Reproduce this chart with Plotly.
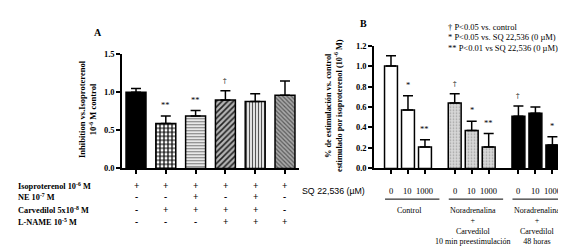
import plotly.graph_objects as go

# ---------------- Panel A data ----------------
a_cats = [0, 1, 2, 3, 4, 5]
a_vals = [1.00, 0.59, 0.69, 0.90, 0.88, 0.96]
a_err = [0.05, 0.10, 0.07, 0.12, 0.10, 0.19]
a_sig = ["", "**", "**", "\u2020", "", ""]
a_rows = ["Isoproterenol 10<sup>-6</sup> M", "NE 10<sup>-7</sup> M",
          "Carvedilol 5x10<sup>-8</sup> M", "L-NAME 10<sup>-5</sup> M"]
a_table = [["+", "+", "+", "+", "+", "+"],
           ["-", "-", "+", "-", "+", "-"],
           ["-", "+", "+", "+", "+", "-"],
           ["-", "-", "-", "+", "+", "+"]]
a_yticks = [0.0, 0.5, 1.0, 1.5]

# ---------------- Panel B data ----------------
b_pos = [0, 1, 2, 3.75, 4.75, 5.75, 7.5, 8.5, 9.5]
b_vals = [1.00, 0.57, 0.21, 0.64, 0.37, 0.21, 0.51, 0.54, 0.23]
b_err = [0.10, 0.14, 0.07, 0.09, 0.09, 0.13, 0.10, 0.06, 0.08]
b_sig = ["", "*", "**", "\u2020", "*", "**", "\u2020", "", "*"]
b_sq = ["0", "10", "1000"] * 3
b_groups = ["Control",
            "Noradrenalina<br>+<br>Carvedilol<br>10 min preestimulación",
            "Noradrenalina<br>+<br>Carvedilol<br>48 horas"]
b_group_start = [0, 3.75, 7.5]
b_yticks = [0.0, 0.2, 0.4, 0.6, 0.8, 1.0, 1.2]
b_legend = ["\u2020 P<0.05 vs. control",
            "* P<0.05 vs. SQ 22,536 (0 \u00b5M)",
            "** P<0.01 vs SQ 22,536 (0 \u00b5M)"]

SERIF = "Liberation Serif"
W, H = 566, 246

def px(xp):
    return xp / W

def py(yp):
    return 1 - yp / H

fig = go.Figure()

a_styles = [
    dict(color="black", pattern=dict(shape="")),
    dict(color="white", pattern=dict(shape="+", fgcolor="black", bgcolor="white",
                                     size=4, solidity=0.5, fillmode="replace")),
    dict(color="white", pattern=dict(shape="-", fgcolor="#7a7a7a", bgcolor="white",
                                     size=3, solidity=0.45, fillmode="replace")),
    dict(color="#aaaaaa", pattern=dict(shape="/", fgcolor="#222222", bgcolor="#b5b5b5",
                                       size=4, solidity=0.4, fillmode="replace")),
    dict(color="white", pattern=dict(shape="|", fgcolor="#555555", bgcolor="white",
                                     size=3, solidity=0.45, fillmode="replace")),
    dict(color="#9a9a9a", pattern=dict(shape="\\", fgcolor="#5a5a5a", bgcolor="#a8a8a8",
                                       size=3, solidity=0.4, fillmode="replace")),
]

for x, v, e, st in zip(a_cats, a_vals, a_err, a_styles):
    fig.add_trace(go.Bar(
        x=[x], y=[v], width=0.67, xaxis="x", yaxis="y",
        marker=dict(color=st["color"], line=dict(color="black", width=1.5),
                    pattern=st["pattern"]),
        error_y=dict(type="data", array=[e], arrayminus=[0], symmetric=False,
                     color="black", thickness=1.5, width=5),
        showlegend=False,
    ))

b_styles = [
    dict(color="white", pattern=dict(shape="")),
    dict(color="#d4d4d4", pattern=dict(shape=".", fgcolor="#a0a0a0", bgcolor="#d8d8d8",
                                       size=3, solidity=0.25, fillmode="replace")),
    dict(color="black", pattern=dict(shape="")),
]
for g in range(3):
    idx = slice(3 * g, 3 * g + 3)
    st = b_styles[g]
    fig.add_trace(go.Bar(
        x=b_pos[idx], y=b_vals[idx], width=0.76, xaxis="x2", yaxis="y2",
        marker=dict(color=st["color"], line=dict(color="black", width=1.5),
                    pattern=st["pattern"]),
        error_y=dict(type="data", array=b_err[idx], arrayminus=[0, 0, 0],
                     symmetric=False, color="black", thickness=1.5, width=5),
        showlegend=False,
    ))

ann = []

def sig_font(s):
    return dict(family="DejaVu Serif" if s == "\u2020" else SERIF,
                size=7 if s == "\u2020" else 8.5, color="black")

for x, v, e, s in zip(a_cats, a_vals, a_err, a_sig):
    if s:
        ann.append(dict(x=x, y=v + e, xref="x", yref="y", text=s, showarrow=False,
                        yanchor="bottom", yshift=4, font=sig_font(s)))
for x, v, e, s in zip(b_pos, b_vals, b_err, b_sig):
    if s:
        ann.append(dict(x=x, y=v + e, xref="x2", yref="y2", text=s, showarrow=False,
                        yanchor="bottom", yshift=4, font=sig_font(s)))

ann.append(dict(x=px(90), y=py(20), xref="paper", yref="paper", text="<b>A</b>",
                showarrow=False, xanchor="center", yanchor="middle",
                font=dict(family=SERIF, size=10, color="black")))
ann.append(dict(x=px(355), y=py(11), xref="paper", yref="paper", text="<b>B</b>",
                showarrow=False, xanchor="center", yanchor="middle",
                font=dict(family=SERIF, size=10, color="black")))

ann.append(dict(x=px(80), y=py(100), xref="paper", yref="paper",
                text="<b>Inhibition vs.Isoproterenol<br>10<sup>-6</sup> M control</b>",
                showarrow=False, textangle=-90, xanchor="center", yanchor="middle",
                font=dict(family=SERIF, size=8.5, color="black")))
ann.append(dict(x=px(326), y=py(97), xref="paper", yref="paper",
                text="<b>% de estimulación vs. control<br>estimulado por isoproterenol (10<sup>-6</sup> M)</b>",
                showarrow=False, textangle=-90, xanchor="center", yanchor="middle",
                font=dict(family=SERIF, size=8.3, color="black")))

row_y = [180, 192, 205, 218]
for r, (lab, vals) in enumerate(zip(a_rows, a_table)):
    ann.append(dict(x=px(8), y=py(row_y[r]), xref="paper", yref="paper",
                    text="<b>" + lab + "</b>", showarrow=False, xanchor="left",
                    yanchor="middle",
                    font=dict(family=SERIF, size=8.3, color="black")))
    for x, s in zip(a_cats, vals):
        ann.append(dict(x=x, y=py(row_y[r]), xref="x", yref="paper",
                        text="<b>" + s + "</b>", showarrow=False, xanchor="center",
                        yanchor="middle",
                        font=dict(family=SERIF, size=9.5, color="black")))

ann.append(dict(x=px(292), y=py(186), xref="paper", yref="paper",
                text="SQ 22,536 (\u00b5M)", showarrow=False, xanchor="left",
                yanchor="middle",
                font=dict(family="Liberation Sans", size=8.8, color="black")))
for x, s in zip(b_pos, b_sq):
    ann.append(dict(x=x, y=py(186), xref="x2", yref="paper", text=s, showarrow=False,
                    xanchor="center", yanchor="middle",
                    font=dict(family=SERIF, size=8.5, color="black")))

shapes = []
for g0, lab in zip(b_group_start, b_groups):
    shapes.append(dict(type="line", xref="x2", yref="paper",
                       x0=g0 - 0.35, x1=g0 + 2.85, y0=py(194), y1=py(194),
                       line=dict(color="black", width=1)))
    ann.append(dict(x=g0 + 1.1, y=py(199), xref="x2", yref="paper", text=lab,
                    showarrow=False, yanchor="top", xanchor="center",
                    font=dict(family=SERIF, size=8, color="black")))

for i, t in enumerate(b_legend):
    ann.append(dict(x=px(438), y=py(15 + 10.5 * i), xref="paper", yref="paper",
                    text=t, showarrow=False, xanchor="left", yanchor="middle",
                    font=dict(family=SERIF, size=8.5, color="black")))

axis_common = dict(showline=True, linecolor="black", linewidth=1.5, ticks="outside",
                   ticklen=4, tickwidth=1.5, tickcolor="black", showgrid=False,
                   zeroline=False)

fig.update_layout(
    width=W, height=H, margin=dict(l=0, r=0, t=0, b=0),
    paper_bgcolor="white", plot_bgcolor="white",
    showlegend=False, barmode="overlay",
    xaxis=dict(domain=[px(114), px(291)], range=[-0.47, 5.47], anchor="y",
               tickvals=a_cats, showticklabels=False, **axis_common),
    yaxis=dict(domain=[py(162), py(43)], range=[0, 1.5], anchor="x",
               tickvals=a_yticks, tickformat=".1f",
               tickfont=dict(family=SERIF, size=8.5, color="black", weight="bold"),
               **axis_common),
    xaxis2=dict(domain=[px(366), px(558)], range=[-1, 10.3], anchor="y2",
                tickvals=b_pos, showticklabels=False, **axis_common),
    yaxis2=dict(domain=[py(162), py(34)], range=[0, 1.2], anchor="x2",
                tickvals=b_yticks, tickformat=".1f",
                tickfont=dict(family=SERIF, size=8.5, color="black", weight="bold"),
                **axis_common),
    annotations=ann, shapes=shapes,
)

fig.write_html("out.html")
